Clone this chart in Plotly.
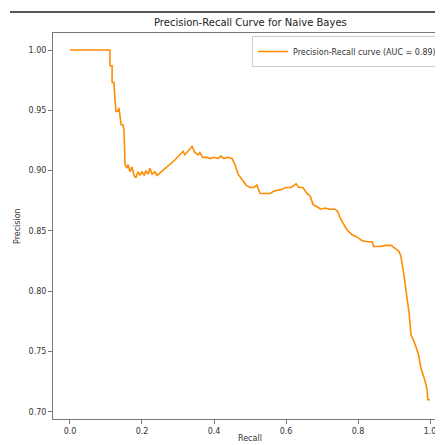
import plotly.graph_objects as go

recall = [0.000, 0.111, 0.111, 0.117, 0.117, 0.122, 0.125, 0.128, 0.133, 0.136, 0.139, 0.142,
          0.147, 0.150, 0.153, 0.158, 0.161, 0.167, 0.172, 0.178, 0.183, 0.189, 0.194, 0.200,
          0.206, 0.211, 0.217, 0.222, 0.228, 0.236, 0.242, 0.264, 0.292, 0.314, 0.319, 0.339,
          0.347, 0.356, 0.361, 0.369, 0.381, 0.389, 0.400, 0.411, 0.419, 0.428, 0.436, 0.450,
          0.458, 0.467, 0.478, 0.489, 0.500, 0.511, 0.519, 0.528, 0.542, 0.556, 0.567, 0.583,
          0.600, 0.614, 0.628, 0.636, 0.647, 0.658, 0.667, 0.675, 0.686, 0.697, 0.708, 0.722,
          0.736, 0.744, 0.750, 0.758, 0.769, 0.783, 0.797, 0.811, 0.825, 0.839, 0.844, 0.861,
          0.878, 0.892, 0.906, 0.914, 0.919, 0.925, 0.928, 0.933, 0.939, 0.942, 0.947, 0.956,
          0.964, 0.969, 0.975, 0.981, 0.986, 0.992, 0.994, 1.000]
precision = [1.000, 1.000, 0.987, 0.987, 0.973, 0.973, 0.959, 0.949, 0.949, 0.952, 0.945, 0.938,
             0.938, 0.934, 0.905, 0.902, 0.905, 0.899, 0.903, 0.896, 0.894, 0.899, 0.896, 0.899,
             0.896, 0.900, 0.897, 0.902, 0.897, 0.899, 0.896, 0.902, 0.909, 0.916, 0.913, 0.920,
             0.915, 0.913, 0.915, 0.911, 0.911, 0.910, 0.911, 0.910, 0.912, 0.910, 0.911, 0.910,
             0.905, 0.897, 0.892, 0.888, 0.886, 0.886, 0.888, 0.881, 0.881, 0.881, 0.883, 0.884,
             0.886, 0.886, 0.889, 0.886, 0.886, 0.881, 0.879, 0.872, 0.870, 0.868, 0.869, 0.868,
             0.868, 0.866, 0.861, 0.857, 0.851, 0.847, 0.845, 0.842, 0.841, 0.841, 0.837, 0.837,
             0.838, 0.838, 0.835, 0.833, 0.829, 0.819, 0.813, 0.801, 0.789, 0.782, 0.764, 0.758,
             0.751, 0.746, 0.736, 0.731, 0.726, 0.718, 0.710, 0.710]

x_ticks = [0.0, 0.2, 0.4, 0.6, 0.8, 1.0]
y_ticks = [0.70, 0.75, 0.80, 0.85, 0.90, 0.95, 1.00]
auc = 0.89
title = "Precision-Recall Curve for Naive Bayes"

FONT = "DejaVu Sans"

# page offsets: the page body adds ~8px margin, so the figure is 8px smaller
W, H = 435, 437
PL, PT, PB = 53, 33, 419   # plot area edges in page pixels
PW, PH = 390, 386


def px_to_paper(px, py):
    return (px - PL) / PW, (PB - py) / PH


fig = go.Figure()
fig.add_trace(go.Scatter(
    x=recall, y=precision, mode="lines",
    line=dict(color="darkorange", width=1.6),
    name=f"Precision-Recall curve (AUC = {auc:.2f})",
))

lx, ly = px_to_paper(442, 36)
tx, ty = px_to_paper(250, 23)
xx, xy = px_to_paper(250, 438)
yx, yy = px_to_paper(17, 226)
sx0, sy = px_to_paper(10, 12)

fig.update_layout(
    width=W, height=H,
    margin=dict(l=45, r=0, t=25, b=26, pad=0),
    plot_bgcolor="white", paper_bgcolor="white",
    font=dict(family=FONT, size=8, color="#333"),
    showlegend=True,
    legend=dict(
        x=lx, y=ly, xanchor="right", yanchor="top",
        bgcolor="white", bordercolor="#cccccc", borderwidth=1,
        font=dict(family=FONT, size=8, color="#333"),
        itemwidth=30,
    ),
    xaxis=dict(
        range=[-0.0472, 1.0361], tickvals=x_ticks, ticktext=[f"{v:.1f}" for v in x_ticks],
        showgrid=False, zeroline=False, showline=True, mirror=True,
        linecolor="#777", linewidth=1, ticks="outside", ticklen=4, tickcolor="#777",
    ),
    yaxis=dict(
        range=[0.694, 1.0141], tickvals=y_ticks, ticktext=[f"{v:.2f}" for v in y_ticks],
        showgrid=False, zeroline=False, showline=True, mirror=False,
        linecolor="#777", linewidth=1, ticks="outside", ticklen=4, tickcolor="#777",
    ),
    annotations=[
        dict(text=title, x=tx, y=ty, xref="paper", yref="paper", showarrow=False,
             xanchor="center", yanchor="middle",
             font=dict(family=FONT, size=10, color="#222")),
        dict(text="Recall", x=xx, y=xy, xref="paper", yref="paper", showarrow=False,
             xanchor="center", yanchor="middle",
             font=dict(family=FONT, size=8, color="#333")),
        dict(text="Precision", x=yx, y=yy, xref="paper", yref="paper", showarrow=False,
             textangle=-90, xanchor="center", yanchor="middle",
             font=dict(family=FONT, size=8, color="#333")),
    ],
    shapes=[
        dict(type="line", xref="paper", yref="paper",
             x0=sx0, x1=1.0, y0=sy, y1=sy,
             line=dict(color="#222", width=1.5)),
    ],
)

fig.write_html("out.html")
